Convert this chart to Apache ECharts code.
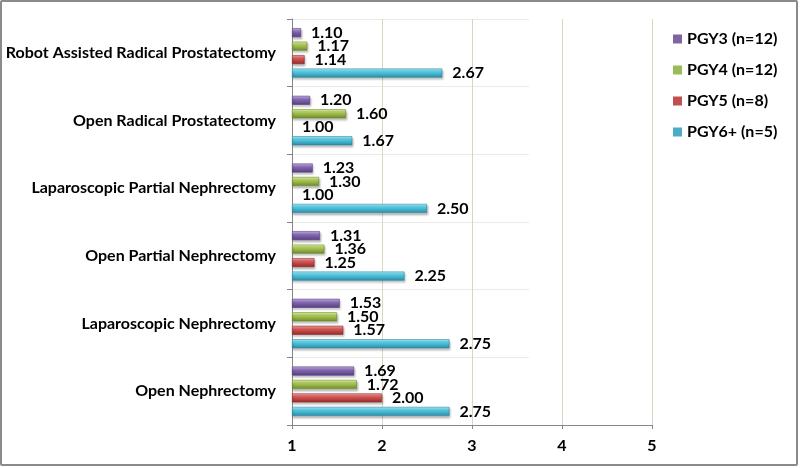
<!DOCTYPE html>
<html>
<head>
<meta charset="utf-8">
<script src="https://cdn.jsdelivr.net/npm/echarts@6/dist/echarts.min.js"></script>
<style>
html,body{margin:0;padding:0;background:#fff;}
#wrap{position:relative;width:800px;height:468px;}
#c{width:800px;height:468px;}
#frame{position:absolute;left:0;top:0;width:798px;height:466px;border:2px solid #8a8a8a;box-sizing:border-box;border-radius:2px;pointer-events:none;}
</style>
</head>
<body>
<div id="wrap"><div id="c"></div><div id="frame"></div></div>
<script>
// categories bottom -> top
const categories = [
  'Open Nephrectomy',
  'Laparoscopic Nephrectomy',
  'Open Partial Nephrectomy',
  'Laparoscopic Partial Nephrectomy',
  'Open Radical Prostatectomy',
  'Robot Assisted Radical Prostatectomy'
];
const pgy3 = [1.69, 1.53, 1.31, 1.23, 1.20, 1.10];
const pgy4 = [1.72, 1.50, 1.36, 1.30, 1.60, 1.17];
const pgy5 = [2.00, 1.57, 1.25, 1.00, 1.00, 1.14];
const pgy6 = [2.75, 2.75, 2.25, 2.50, 1.67, 2.67];
const seriesNames = ['PGY3 (n=12)', 'PGY4 (n=12)', 'PGY5 (n=8)', 'PGY6+ (n=5)'];
const xTicks = [1, 2, 3, 4, 5];
const axisStart = 1;

const FONT = 'Lato';
const palette = {
  'PGY6+ (n=5)': ['#a9eefc', '#4bc3dd', '#2c8aa3'],
  'PGY5 (n=8)': ['#f2a5a3', '#d2504d', '#8e2c2a'],
  'PGY4 (n=12)': ['#e4f5a6', '#a4c24f', '#6d8a2c'],
  'PGY3 (n=12)': ['#c9b4ea', '#8064b0', '#553f7c']
};
const legendColor = {
  'PGY6+ (n=5)': '#4bacc6', 'PGY5 (n=8)': '#c0504d', 'PGY4 (n=12)': '#9bbb59', 'PGY3 (n=12)': '#8064a2'
};
const dataSets = [pgy3, pgy4, pgy5, pgy6];

function grad(c) {
  return new echarts.graphic.LinearGradient(0, 0, 0, 1, [
    {offset: 0, color: c[0]}, {offset: 0.45, color: c[1]}, {offset: 1, color: c[2]}
  ]);
}

const series = [];
seriesNames.forEach((n, i) => {
  const stack = 's' + i;
  // transparent base from 0 to axis start, so bars begin at 1
  series.push({
    name: n + '_base', type: 'bar', stack: stack,
    xAxisIndex: 0, yAxisIndex: 0,
    data: dataSets[i].map(() => axisStart),
    barGap: '50%', barCategoryGap: '27%',
    itemStyle: {color: 'rgba(0,0,0,0)'},
    silent: true, clip: true,
    label: {show: false}, emphasis: {disabled: true}, legendHoverLink: false
  });
  series.push({
    name: n, type: 'bar', stack: stack,
    xAxisIndex: 0, yAxisIndex: 0,
    data: dataSets[i].map(v => {
      const d = {value: v - axisStart, real: v};
      if (v === axisStart) d.itemStyle = {borderWidth: 0, shadowColor: 'rgba(0,0,0,0)', color: 'rgba(0,0,0,0)'};
      return d;
    }),
    barGap: '50%', barCategoryGap: '27%',
    clip: false,
    itemStyle: {
      color: grad(palette[n]),
      borderColor: palette[n][2], borderWidth: 0.6,
      shadowColor: 'rgba(0,0,0,0.25)', shadowBlur: 2, shadowOffsetY: 2, shadowOffsetX: 1
    },
    label: {
      show: true, position: 'right', distance: 10,
      formatter: p => p.data.real.toFixed(2),
      color: '#000', fontFamily: FONT, fontWeight: 'bold', fontSize: 16
    },
    emphasis: {disabled: true}
  });
});
// helper series in second grid for short horizontal separators
series.push({type: 'bar', xAxisIndex: 1, yAxisIndex: 1, data: [], silent: true});

const chart = echarts.init(document.getElementById('c'), null, {renderer: 'canvas'});
chart.setOption({
  animation: false,
  backgroundColor: '#fff',
  legend: {
    data: seriesNames.map(n => ({name: n, itemStyle: {color: legendColor[n], borderWidth: 0, shadowBlur: 0}})),
    orient: 'vertical', left: 668, top: 26,
    itemWidth: 9, itemHeight: 9, itemGap: 15,
    icon: 'rect',
    textStyle: {fontFamily: FONT, fontWeight: 'bold', fontSize: 16, color: '#000'}
  },
  grid: [
    {left: 292, right: 148, top: 19, bottom: 43, containLabel: false},
    {left: 292, right: 271, top: 19, bottom: 43, containLabel: false}
  ],
  xAxis: [
    {
      type: 'value', min: 1, max: 5, interval: 1, gridIndex: 0,
      axisLine: {show: true, lineStyle: {color: '#868686', width: 1}},
      axisTick: {show: true, length: 4, lineStyle: {color: '#868686'}},
      axisLabel: {fontFamily: FONT, fontWeight: 'bold', fontSize: 16, color: '#000', margin: 13},
      splitLine: {show: true, lineStyle: {color: '#d8d5c2', width: 1}}
    },
    {type: 'value', min: 0, max: 1, gridIndex: 1, show: false}
  ],
  yAxis: [
    {
      type: 'category', data: categories, gridIndex: 0,
      axisLine: {show: true, lineStyle: {color: '#868686'}},
      axisTick: {show: true, length: 5, lineStyle: {color: '#868686'}},
      axisLabel: {fontFamily: FONT, fontWeight: 'bold', fontSize: 16, color: '#000', margin: 16},
      splitLine: {show: false}
    },
    {
      type: 'category', data: categories, gridIndex: 1,
      axisLine: {show: false}, axisTick: {show: false}, axisLabel: {show: false},
      splitLine: {show: true, lineStyle: {color: '#ebebe6', width: 1}}
    }
  ],
  series: series
});
</script>
</body>
</html>
